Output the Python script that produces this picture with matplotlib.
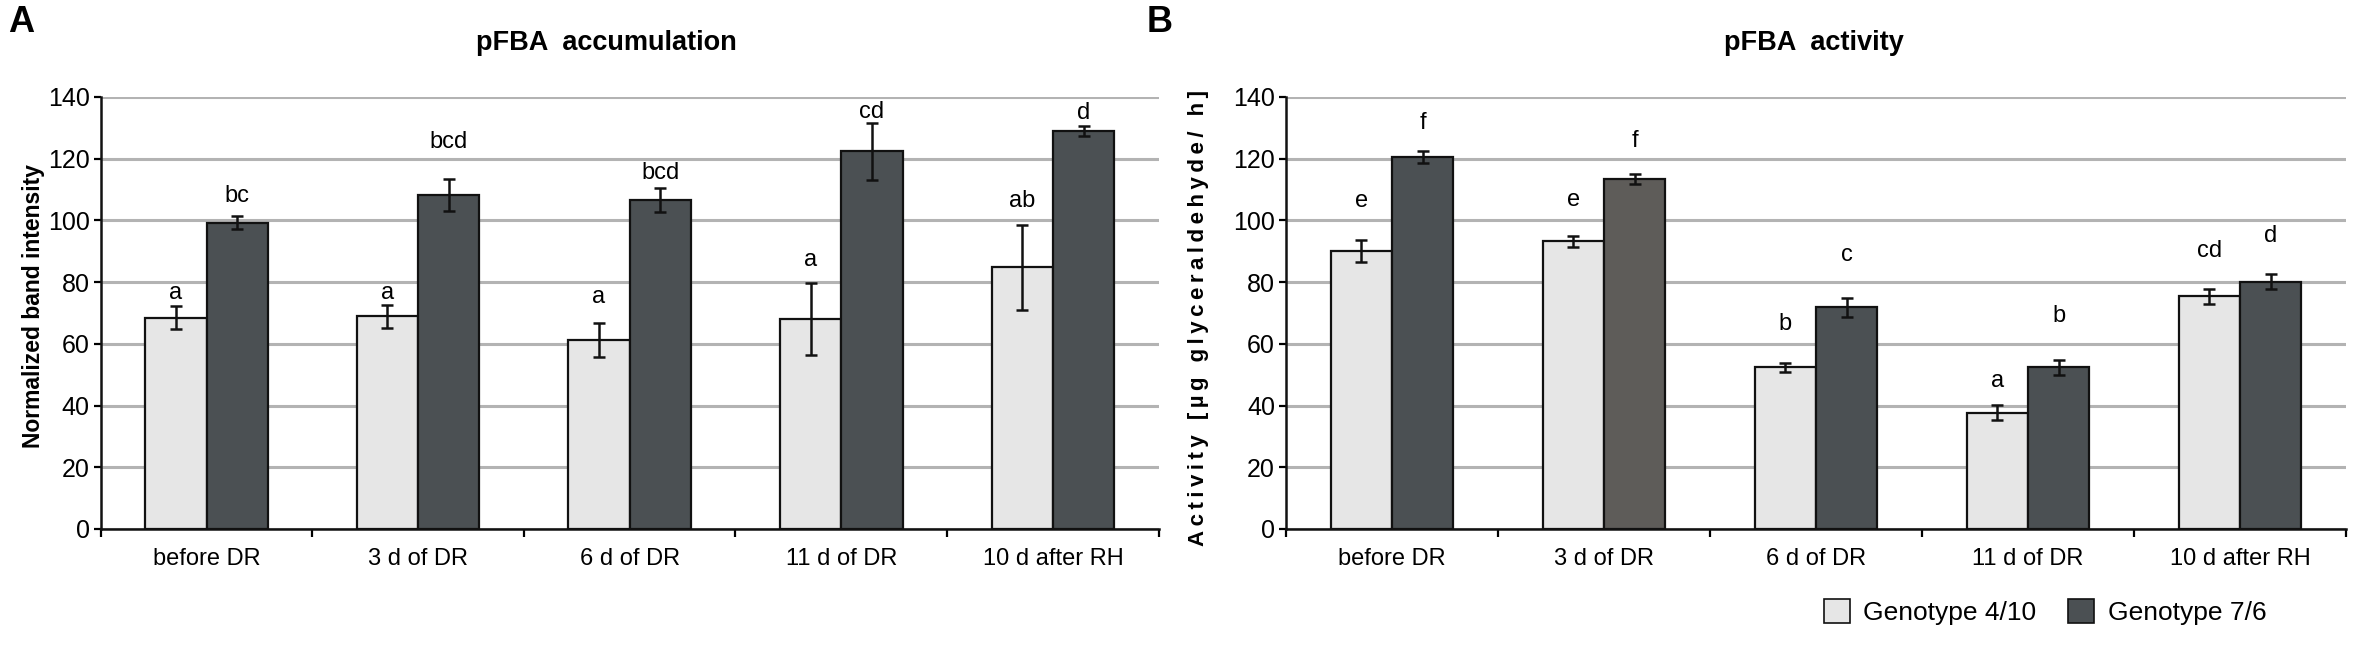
import matplotlib
matplotlib.use("Agg")
import matplotlib.pyplot as plt
import numpy as np

# ---------------------------------------------------------------------------
# data
categories = ["before DR", "3 d of DR", "6 d of DR", "11 d of DR", "10 d after RH"]
series_names = ["Genotype 4/10", "Genotype 7/6"]

# panel A - pFBA accumulation
acc_g410 = [68.5, 68.9, 61.4, 68.1, 84.8]
acc_g410_err = [3.8, 3.8, 5.5, 11.7, 13.7]
acc_g76 = [99.3, 108.3, 106.6, 122.4, 128.9]
acc_g76_err = [2.0, 5.2, 3.8, 9.3, 1.7]
acc_g410_letters = ["a", "a", "a", "a", "ab"]
acc_g76_letters = ["bc", "bcd", "bcd", "cd", "d"]
acc_g410_letter_y = [76.5, 76.5, 75.2, 87.2, 106.3]
acc_g76_letter_y = [107.9, 125.3, 115.5, 135.3, 134.9]

# panel B - pFBA activity
act_g410 = [90.1, 93.2, 52.4, 37.7, 75.4]
act_g410_err = [3.6, 1.8, 1.5, 2.4, 2.4]
act_g76 = [120.6, 113.4, 71.8, 52.4, 80.2]
act_g76_err = [2.0, 1.5, 3.0, 2.4, 2.4]
act_g410_letters = ["e", "e", "b", "a", "cd"]
act_g76_letters = ["f", "f", "c", "b", "d"]
act_g410_letter_y = [106.2, 106.6, 66.3, 48.1, 90.1]
act_g76_letter_y = [131.5, 125.7, 88.8, 69.0, 94.9]

LIGHT = "#e6e6e6"
DARK = "#4b5053"
DARK_ALT = "#5e5c59"   # the odd 3 d bar in panel B
FONT = ["Liberation Sans", "DejaVu Sans"]

W, H = 2362, 649
fig = plt.figure(figsize=(W / 100, H / 100), dpi=100)


def draw_panel(ax, light, light_err, dark, dark_err, l_letters, l_y, d_letters, d_y, dark_colors):
    x = np.arange(len(categories))
    bw = 0.29
    ekw = dict(elinewidth=1.8, capsize=4, capthick=1.8, ecolor="#111111")
    ax.bar(x - bw / 2, light, bw, yerr=light_err, color=LIGHT, edgecolor="#111111",
           linewidth=1.6, error_kw=ekw, zorder=3, label=series_names[0])
    ax.bar(x + bw / 2, dark, bw, yerr=dark_err, color=dark_colors, edgecolor="#111111",
           linewidth=1.6, error_kw=ekw, zorder=3, label=series_names[1])
    for i in range(len(categories)):
        ax.text(x[i] - bw / 2, l_y[i], l_letters[i], ha="center", va="center",
                fontsize=17, family=FONT)
        ax.text(x[i] + bw / 2, d_y[i], d_letters[i], ha="center", va="center",
                fontsize=17, family=FONT)
    ax.set_xlim(-0.5, len(categories) - 0.5)
    ax.set_ylim(0, 140)
    ax.set_yticks(range(0, 141, 20))
    ax.yaxis.grid(True, color="#b3b3b3", linewidth=2.2, zorder=0)
    ax.set_axisbelow(True)
    for s in ["top", "right"]:
        ax.spines[s].set_visible(False)
    for s in ["left", "bottom"]:
        ax.spines[s].set_linewidth(1.8)
        ax.spines[s].set_color("#111111")
    ax.set_xticks(x)
    ax.set_xticklabels(categories, fontsize=17, family=FONT)
    ax.set_xticks(np.arange(-0.5, len(categories)), minor=True)
    ax.tick_params(axis="x", which="major", length=0, pad=14)
    ax.tick_params(axis="x", which="minor", length=6, width=1.6, direction="out")
    ax.tick_params(axis="y", length=5, width=1.6, direction="out", labelsize=18, pad=3)
    for lab in ax.get_yticklabels():
        lab.set_family(FONT)


axA = fig.add_axes([100.7 / W, 1 - 529 / H, 1058 / W, 432 / H])
draw_panel(axA, acc_g410, acc_g410_err, acc_g76, acc_g76_err,
           acc_g410_letters, acc_g410_letter_y, acc_g76_letters, acc_g76_letter_y, DARK)

axB = fig.add_axes([1286 / W, 1 - 529 / H, 1060 / W, 432 / H])
dark_cols_B = [DARK, DARK_ALT, DARK, DARK, DARK]
draw_panel(axB, act_g410, act_g410_err, act_g76, act_g76_err,
           act_g410_letters, act_g410_letter_y, act_g76_letters, act_g76_letter_y, dark_cols_B)

# axis titles / labels
fig.text(606 / W, 1 - 43 / H, "pFBA  accumulation", ha="center", va="center",
         fontsize=19.5, fontweight="bold", family=FONT)
fig.text(1814 / W, 1 - 43 / H, "pFBA  activity", ha="center", va="center",
         fontsize=19.5, fontweight="bold", family=FONT)
fig.text(34 / W, 1 - 306 / H, "Normalized band intensity", rotation=90, ha="center",
         va="center", fontsize=16.5, fontweight="bold", family=FONT)
spaced = "\u2009".join("Activity [µg glyceraldehyde/ h]")
fig.text(1198 / W, 1 - 318 / H, spaced, rotation=90, ha="center",
         va="center", fontsize=16, fontweight="bold", family=FONT)

fig.text(21 / W, 1 - 23 / H, "A", ha="center", va="center", fontsize=26,
         fontweight="bold", family=FONT)
fig.text(1160 / W, 1 - 22 / H, "B", ha="center", va="center", fontsize=26,
         fontweight="bold", family=FONT)

# legend under panel B
handles, labels = axB.get_legend_handles_labels()
leg = fig.legend(handles, labels, loc="center", bbox_to_anchor=(2045 / W, 1 - 612 / H),
                 ncol=2, frameon=False, prop={"family": FONT, "size": 19},
                 handlelength=1.0, handleheight=1.0, handletextpad=0.5, columnspacing=1.2)
for p in leg.get_patches():
    p.set_linewidth(1.2)

fig.savefig("out.png", dpi=100)
